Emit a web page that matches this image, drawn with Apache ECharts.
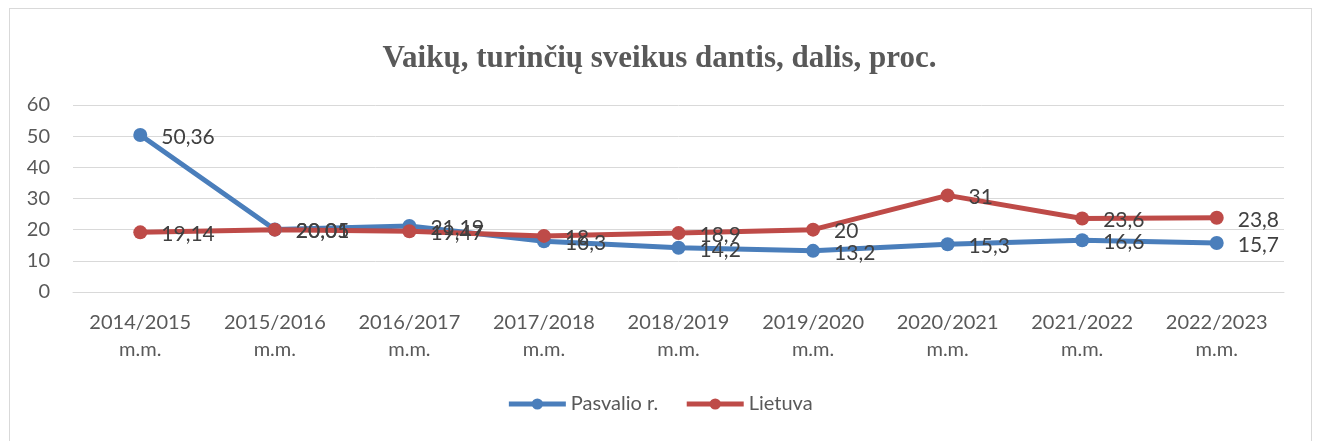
<!DOCTYPE html>
<html>
<head>
<meta charset="utf-8">
<script src="https://cdn.jsdelivr.net/npm/echarts@6/dist/echarts.min.js"></script>
<style>
  html, body { margin: 0; padding: 0; background: #fff; }
  #chart { width: 1319px; height: 441px; box-sizing: border-box; }
  .frame { position: absolute; left: 9px; top: 8px; width: 1303px; height: 440px; border: 1px solid #d9d9d9; box-sizing: border-box; pointer-events: none; }
</style>
</head>
<body>
<div class="frame"></div>
<div id="chart"></div>
<script>
var categories = ['2014/2015\nm.m.', '2015/2016\nm.m.', '2016/2017\nm.m.', '2017/2018\nm.m.', '2018/2019\nm.m.',
    '2019/2020\nm.m.', '2020/2021\nm.m.', '2021/2022\nm.m.', '2022/2023\nm.m.'];
var pasvalio = [50.36, 20.05, 21.19, 16.3, 14.2, 13.2, 15.3, 16.6, 15.7];
var lietuva = [19.14, 20.01, 19.47, 18, 18.9, 20, 31, 23.6, 23.8];

var font = 'Lato, "Open Sans", sans-serif';

function labelCfg() {
    return {
        show: true,
        position: 'right',
        offset: [9, 2],
        fontFamily: font,
        fontSize: 21,
        color: '#404040',
        formatter: function (p) { return String(p.value).replace('.', ','); }
    };
}

var myChart = echarts.init(document.getElementById('chart'));
var option = {
    title: {
        text: 'Vaikų, turinčių sveikus dantis, dalis, proc.',
        left: 'center',
        top: 38,
        textStyle: {
            fontFamily: '"Liberation Serif", "DejaVu Serif", serif',
            fontWeight: 'bold',
            fontSize: 31,
            color: '#595959'
        }
    },
    legend: {
        bottom: 22,
        left: 'center',
        itemWidth: 57,
        itemHeight: 14,
        itemGap: 26,
        lineStyle: { width: 5 },
        textStyle: { fontFamily: font, fontSize: 20, color: '#595959' },
        data: ['Pasvalio r.', 'Lietuva']
    },
    grid: {
        left: 73,
        right: 35,
        top: 105,
        bottom: 149
    },
    xAxis: {
        type: 'category',
        data: categories,
        axisLine: { lineStyle: { color: '#d9d9d9' } },
        axisTick: { show: false },
        axisLabel: {
            fontFamily: font,
            fontSize: 20,
            color: '#595959',
            lineHeight: 27,
            margin: 17
        }
    },
    yAxis: {
        type: 'value',
        min: 0,
        max: 60,
        interval: 10,
        axisLine: { show: false },
        axisTick: { show: false },
        axisLabel: { fontFamily: font, fontSize: 20, color: '#595959', margin: 23 },
        splitLine: { lineStyle: { color: '#d9d9d9', width: 1 } }
    },
    series: [
        {
            name: 'Pasvalio r.',
            type: 'line',
            data: pasvalio,
            symbol: 'circle',
            symbolSize: 14,
            itemStyle: { color: '#4a7ebb' },
            lineStyle: { width: 5, color: '#4a7ebb' },
            label: labelCfg()
        },
        {
            name: 'Lietuva',
            type: 'line',
            data: lietuva,
            symbol: 'circle',
            symbolSize: 14,
            itemStyle: { color: '#be4b48' },
            lineStyle: { width: 5, color: '#be4b48' },
            label: labelCfg()
        }
    ],
    animation: false
};
myChart.setOption(option);
</script>
</body>
</html>
